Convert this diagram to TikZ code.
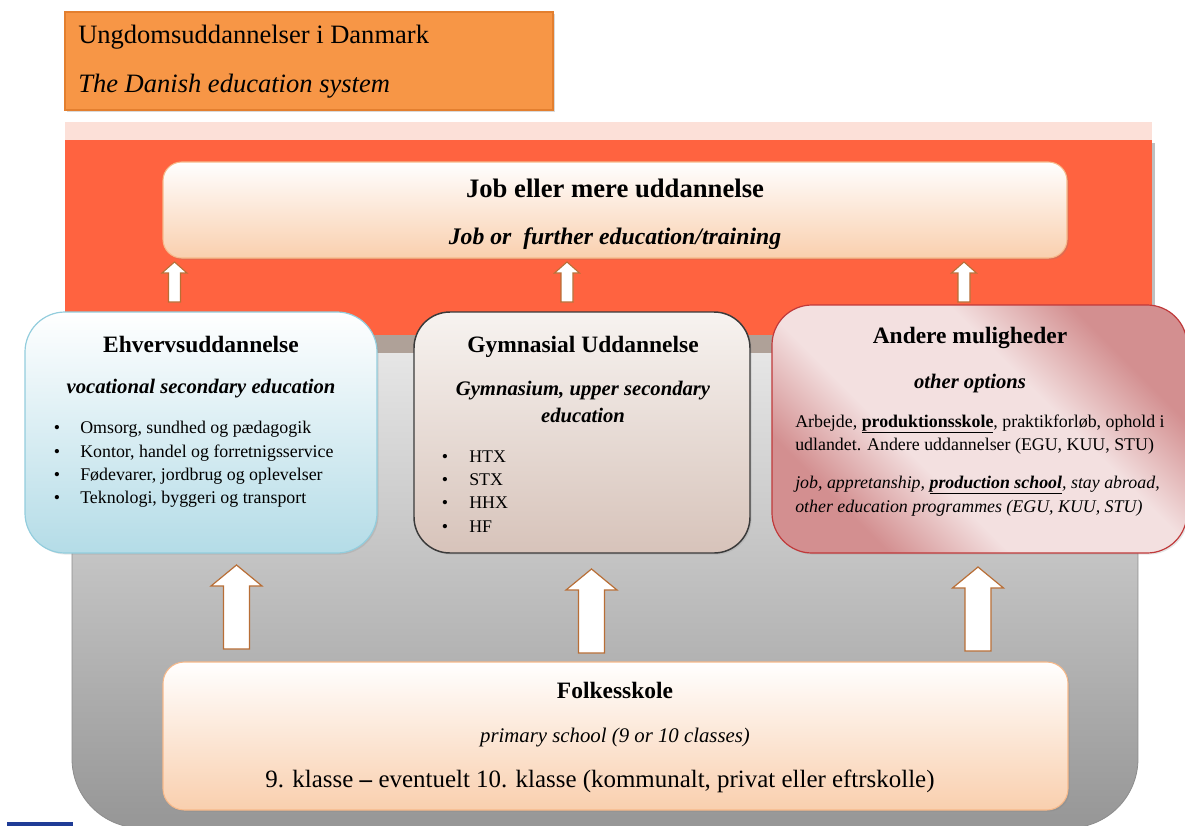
\documentclass[tikz,border=0pt]{standalone}
\usepackage{fontspec}
\setmainfont{Liberation Serif}
\usetikzlibrary{shadows}
\definecolor{titleor}{HTML}{F79646}
\definecolor{titleorb}{HTML}{E37F2F}
\definecolor{pinkstrip}{HTML}{FCE0D8}
\definecolor{redor}{HTML}{FF6340}
\definecolor{taupe}{HTML}{AFA198}
\definecolor{grtop}{HTML}{F7F7F7}
\definecolor{grbot}{HTML}{969696}
\definecolor{grline}{HTML}{8C8C8C}
\definecolor{peach}{HTML}{F9CFAE}
\definecolor{peachb}{HTML}{F7B98A}
\definecolor{bluebot}{HTML}{B4DCE7}
\definecolor{blueb}{HTML}{93CDDD}
\definecolor{gymtop}{HTML}{F7F3F0}
\definecolor{gymbot}{HTML}{D7C3BA}
\definecolor{gymb}{HTML}{3A3A3A}
\definecolor{andin}{HTML}{F3E0E0}
\definecolor{andout}{HTML}{D38F90}
\definecolor{andb}{HTML}{C0393A}
\definecolor{arrowbrown}{HTML}{B86E36}
\definecolor{navy}{HTML}{1F3C96}
\pgfdeclarehorizontalshading{andshade}{100bp}{color(0bp)=(andout); color(27bp)=(andout); color(40bp)=(andin); color(60bp)=(andin); color(73bp)=(andout); color(100bp)=(andout)}
\begin{document}
\begin{tikzpicture}[x=0.75pt,y=-0.75pt,
  box/.style={inner sep=0pt},
  peachbox/.style={box,draw=peachb,line width=0.8pt,top color=white,bottom color=peach,rounded corners=14pt,
     drop shadow={opacity=0.25,shadow xshift=1.2pt,shadow yshift=-1.2pt}},
  ttl/.style={anchor=base,font=\fontsize{17.6}{20}\selectfont\bfseries},
  sub/.style={anchor=base,font=\fontsize{15.5}{18}\selectfont\bfseries\itshape},
  body/.style={anchor=base west,inner xsep=0pt,font=\fontsize{13.4}{16}\selectfont},
  bodyit/.style={anchor=base west,inner xsep=0pt,font=\fontsize{13.4}{16}\selectfont\itshape},
  bul/.style={anchor=base,font=\fontsize{13.4}{16}\selectfont},
  arrowst/.style={draw=arrowbrown,fill=white,line width=0.9pt,line join=miter},
  bigarrow/.pic={\draw[arrowst] (0,0) -- ++(25.5,21) -- ++(-12.5,0) -- ++(0,63) -- ++(-26,0) -- ++(0,-63) -- ++(-12.5,0) -- cycle;},
  smallarrow/.pic={\draw[arrowst,line width=0.8pt] (0,0) -- ++(12.5,11) -- ++(-6.5,0) -- ++(0,29) -- ++(-12,0) -- ++(0,-29) -- ++(-6.5,0) -- cycle;}
]
\useasboundingbox (0,0) rectangle (1185,825);
\clip (0,0) rectangle (1185,825);
% grey container
\draw[grline,line width=0.6pt,top color=grtop,bottom color=grbot,rounded corners=52pt] (72,250) rectangle (1138,828);
% background bands
\fill[pinkstrip] (65,122) rectangle (1152,140);
\fill[black!25] (1152,143) rectangle (1155,335);
\fill[redor] (65,140) rectangle (1152,335);
\fill[taupe] (65,335) rectangle (1152,353);
% top box
\node[peachbox,minimum width=678pt,minimum height=72pt] (job) at (615,210) {};
\node[anchor=base,font=\fontsize{20}{24}\selectfont\bfseries] (jobt) at (615,197) {Job eller mere uddannelse};
\node[anchor=base,font=\fontsize{17.8}{20}\selectfont\bfseries\itshape] (jobs) at (615,244) {Job or\ \ further education/training};
% small arrows (tips just below the top box)
\coordinate (s1) at (174.5,262);
\coordinate (s2) at (567,262);
\coordinate (s3) at (964,262);
\pic at (s1) {smallarrow};
\pic at (s2) {smallarrow};
\pic at (s3) {smallarrow};
% three boxes
\node[box,draw=blueb,line width=0.9pt,top color=white,bottom color=bluebot,rounded corners=30pt,
  minimum width=264pt,minimum height=180.75pt,drop shadow={opacity=0.2,shadow xshift=1.2pt,shadow yshift=-1.2pt}] (voc) at (201,432.5) {};
\node[box,draw=gymb,line width=1.1pt,top color=gymtop,bottom color=gymbot,rounded corners=27pt,
  minimum width=252pt,minimum height=180.75pt,drop shadow={opacity=0.2,shadow xshift=1.2pt,shadow yshift=-1.2pt}] (gym) at (582,432.5) {};
\node[box,draw=andb,line width=0.9pt,shading=andshade,shading angle=45,rounded corners=30pt,
  minimum width=311.25pt,minimum height=186pt,drop shadow={opacity=0.2,shadow xshift=1.2pt,shadow yshift=-1.2pt}] (and) at (979.5,429) {};
% vocational text
\node[ttl] (vt) at (201,352) {Ehvervsuddannelse};
\node[sub] (vs) at (201,393) {vocational secondary education};
\node[bul] (vb1) at (57,433) {\textbullet};
\node[bul] (vb2) at (57,457) {\textbullet};
\node[bul] (vb3) at (57,480) {\textbullet};
\node[bul] (vb4) at (57,503) {\textbullet};
\node[body] (v1) at (80,433) {Omsorg, sundhed og pædagogik};
\node[body] (v2) at (80,457) {Kontor, handel og forretnigsservice};
\node[body] (v3) at (80,480) {Fødevarer, jordbrug og oplevelser};
\node[body] (v4) at (80,503) {Teknologi, byggeri og transport};
% gymnasial text
\node[ttl] (gt) at (583,352) {Gymnasial Uddannelse};
\node[sub] (gs1) at (583,395) {Gymnasium, upper secondary};
\node[sub] (gs2) at (583,422) {education};
\node[bul] (gb1) at (445,462) {\textbullet};
\node[bul] (gb2) at (445,485) {\textbullet};
\node[bul] (gb3) at (445,508) {\textbullet};
\node[bul] (gb4) at (445,532) {\textbullet};
\node[body] (g1) at (469,462) {HTX};
\node[body] (g2) at (469,485) {STX};
\node[body] (g3) at (469,508) {HHX};
\node[body] (g4) at (469,532) {HF};
% andere text
\node[ttl] (at) at (970,343) {Andere muligheder};
\node[sub] (as) at (970,388) {other options};
\node[body] (a1t) at (795,427) {Arbejde, \underline{\textbf{produktionsskole}}, praktikforløb, ophold i};
\node[body] (a2t) at (795,450) {udlandet. Andere uddannelser (EGU, KUU, STU)};
\node[bodyit] (a3t) at (795,488) {job, appretanship, \underline{\textbf{production school}}, stay abroad,};
\node[bodyit] (a4t) at (795,512) {other education programmes (EGU, KUU, STU)};
% big arrows (tips just below the three boxes)
\coordinate (b1) at (236.5,565);
\coordinate (b2) at (591.5,569);
\coordinate (b3) at (978,567);
\pic at (b1) {bigarrow};
\pic at (b2) {bigarrow};
\pic at (b3) {bigarrow};
% folkeskole
\node[peachbox,rounded corners=16pt,minimum width=678.75pt,minimum height=111pt] (folk) at (615.5,736) {};
\node[ttl] (ft) at (615,698) {Folkesskole};
\node[anchor=base,font=\fontsize{15.6}{18}\selectfont\itshape] (fs) at (615,742) {primary school (9 or 10 classes)};
\node[anchor=base,font=\fontsize{18.7}{22}\selectfont] (fl) at (600,787) {9. klasse \textbf{–} eventuelt 10. klasse (kommunalt, privat eller eftrskolle)};
% title box
\node[box,draw=titleorb,line width=0.8pt,fill=titleor,minimum width=366pt,minimum height=73.5pt,
  drop shadow={opacity=0.3,shadow xshift=1.5pt,shadow yshift=-1.5pt}] (title) at (309,61) {};
\node[anchor=base west,inner xsep=0pt,font=\fontsize{19.9}{24}\selectfont] (t1) at (78,43) {Ungdomsuddannelser i Danmark};
\node[anchor=base west,inner xsep=0pt,font=\fontsize{19.9}{24}\selectfont\itshape] (t2) at (78,92) {The Danish education system};
% navy mark
\fill[navy] (7,822) rectangle (73,826);
\end{tikzpicture}
\end{document}
